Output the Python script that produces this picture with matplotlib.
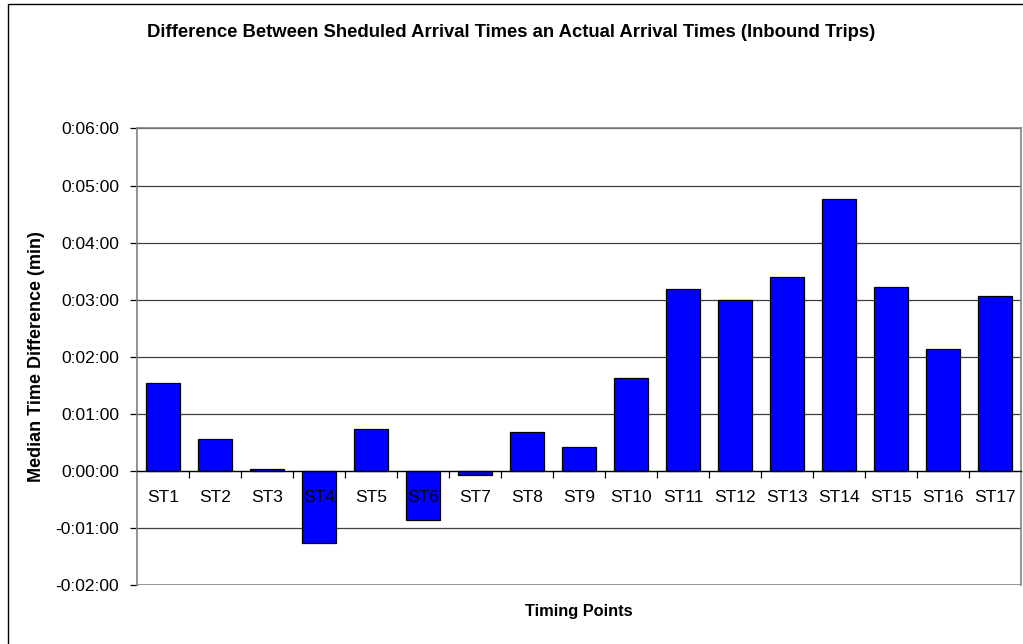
import matplotlib.pyplot as plt
from matplotlib.patches import Rectangle
from matplotlib.ticker import FuncFormatter, MultipleLocator

plt.rcParams['font.family'] = ['Liberation Sans', 'DejaVu Sans']

# timing points and median difference (seconds, actual - scheduled)
stops = ['ST1', 'ST2', 'ST3', 'ST4', 'ST5', 'ST6', 'ST7', 'ST8', 'ST9',
         'ST10', 'ST11', 'ST12', 'ST13', 'ST14', 'ST15', 'ST16', 'ST17']
diff_sec = [92, 33, 2, -76, 44, -52, -4, 41, 25,
            98, 191, 180, 204, 286, 193, 128, 184]


def fmt_time(v, pos):
    s = int(round(abs(v)))
    sign = '-' if v < 0 else ''
    return f"{sign}{s // 3600}:{(s % 3600) // 60:02d}:{s % 60:02d}"


fig = plt.figure(figsize=(10.23, 6.44), dpi=100)
ax = fig.add_axes([0.1339, 0.0916, 0.998 - 0.1339, 0.8005 - 0.0916])

# outer chart border (only left and top visible in the frame)
fig.patches.append(Rectangle((8 / 1023, -0.1), 1.2, 1.1 - 4 / 644,
                             transform=fig.transFigure, fill=False,
                             edgecolor='black', linewidth=1.0))

x = list(range(len(stops)))
ax.bar(x, diff_sec, width=0.67, color='#0000FF', edgecolor='black',
       linewidth=0.9, zorder=1)

ax.set_xlim(-0.5, len(stops) - 0.5)
ax.set_ylim(-120, 360)
ax.yaxis.set_major_locator(MultipleLocator(60))
ax.yaxis.set_major_formatter(FuncFormatter(fmt_time))

# gridlines behind the bars
for v in range(60, 361, 60):
    ax.axhline(v, color='#404040', linewidth=0.9, zorder=0)
ax.axhline(-60, color='#404040', linewidth=0.9, zorder=0)
ax.axhline(-120, color='#808080', linewidth=1.2, zorder=0)

for side in ['top', 'right', 'left']:
    ax.spines[side].set_color('#808080')
    ax.spines[side].set_linewidth(1.2)
ax.spines['bottom'].set_position(('data', 0))
ax.spines['bottom'].set_color('black')
ax.spines['bottom'].set_linewidth(1.0)

ax.set_xticks(x)
ax.set_xticklabels(stops)
ax.set_xticks([i - 0.5 for i in range(1, len(stops))], minor=True)
ax.tick_params(axis='x', which='major', length=0, pad=14, labelsize=12.5)
ax.tick_params(axis='x', which='minor', length=5, direction='out', width=0.9)
ax.tick_params(axis='y', length=5, direction='out', width=0.9, labelsize=12.5,
               pad=8)

fig.text(0.5, 0.950, 'Difference Between Sheduled Arrival Times an Actual Arrival Times (Inbound Trips)',
         ha='center', va='center', fontsize=13.3, fontweight='bold')
fig.text(579 / 1023, 0.0497, 'Timing Points', ha='center', va='center',
         fontsize=11.8, fontweight='bold')
fig.text(37 / 1023, 1 - 357 / 644, 'Median Time Difference (min)', ha='center',
         va='center', rotation=90, fontsize=13, fontweight='bold')

fig.savefig('out.png', dpi=100)
